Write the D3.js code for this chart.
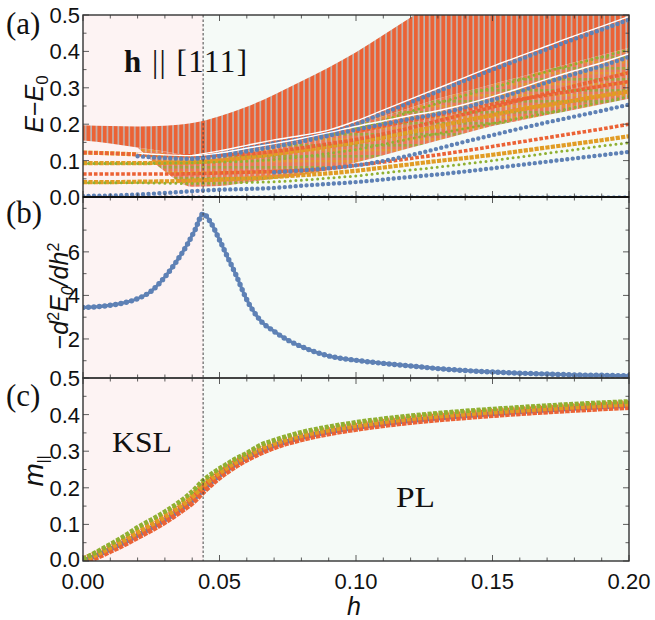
<!DOCTYPE html>
<html><head><meta charset="utf-8">
<script src="https://cdn.jsdelivr.net/npm/d3@7"></script>
<style>body{margin:0;background:#fff} svg{display:block}</style>
</head><body><svg id="c" width="655" height="620"></svg>
<script>
// ---------------- data ----------------
const hCritical = 0.044;
const xTicks = [0, 0.05, 0.1, 0.15, 0.2];
const xTickLabels = ["0.00", "0.05", "0.10", "0.15", "0.20"];
const yTicksA = [0, 0.1, 0.2, 0.3, 0.4, 0.5];
const yTickLabelsA = ["0.0", "0.1", "0.2", "0.3", "0.4", "0.5"];
const yTicksB = [2, 4, 6];
const yTickLabelsB = ["2", "4", "6"];
const yTicksC = [0, 0.1, 0.2, 0.3, 0.4, 0.5];
const yTickLabelsC = ["0.0", "0.1", "0.2", "0.3", "0.4", "0.5"];

// panel (a): spectrum knots
const hK = [0, 0.01, 0.02, 0.03, 0.04, 0.05, 0.06, 0.07, 0.08, 0.09, 0.1, 0.11, 0.12, 0.13, 0.14, 0.15, 0.16, 0.17, 0.18, 0.19, 0.2];
const contTop = [0.197, 0.195, 0.194, 0.196, 0.203, 0.222, 0.248, 0.281, 0.318, 0.356, 0.398, 0.445, 0.493, 0.54, 0.6, 0.6, 0.6, 0.6, 0.6, 0.6, 0.6];
const contDenseLow = [0.155, 0.147, 0.136, 0.125, 0.113, 0.118, 0.128, 0.14, 0.155, 0.175, 0.2, 0.222, 0.245, 0.27, 0.29, 0.31, 0.33, 0.35, 0.37, 0.39, 0.41];
const contSparseLow = [null, null, 0.136, 0.07, 0.028, 0.03, 0.04, 0.05, 0.06, 0.075, 0.095, 0.115, 0.135, 0.155, 0.175, 0.195, 0.21, 0.225, 0.24, 0.255, 0.27];
const levelGround = [0, 0, 0, 0, 0, 0, 0, 0, 0, 0, 0, 0, 0, 0, 0, 0, 0, 0, 0, 0, 0];
const levelB1 = [0.003, 0.004, 0.007, 0.011, 0.016, 0.02, 0.022, 0.025, 0.031, 0.036, 0.041, 0.048, 0.055, 0.062, 0.07, 0.079, 0.088, 0.097, 0.106, 0.115, 0.124];
const levelG1 = [0.039, 0.039, 0.039, 0.038, 0.037, 0.038, 0.04, 0.042, 0.046, 0.052, 0.058, 0.066, 0.074, 0.082, 0.091, 0.1, 0.11, 0.12, 0.13, 0.14, 0.149];
const levelS1 = [0.041, 0.041, 0.042, 0.043, 0.045, 0.048, 0.051, 0.055, 0.06, 0.065, 0.072, 0.081, 0.09, 0.099, 0.107, 0.116, 0.126, 0.136, 0.146, 0.156, 0.167];
const levelT1 = [0.063, 0.063, 0.063, 0.063, 0.064, 0.066, 0.068, 0.07, 0.073, 0.078, 0.087, 0.096, 0.106, 0.116, 0.127, 0.139, 0.151, 0.163, 0.175, 0.187, 0.2];
const levelG2 = [0.092, 0.092, 0.092, 0.093, 0.094, 0.096, 0.098, 0.103, 0.11, 0.12, 0.13, 0.145, 0.16, 0.174, 0.188, 0.202, 0.217, 0.231, 0.246, 0.261, 0.276];
const levelS2 = [0.093, 0.093, 0.093, 0.094, 0.095, 0.1, 0.108, 0.118, 0.128, 0.139, 0.15, 0.164, 0.178, 0.194, 0.21, 0.225, 0.24, 0.253, 0.265, 0.278, 0.29];
const levelS0 = [0.122, 0.12, 0.117, 0.114, null, null, null, null, null, null, null, null, null, null, null, null, null, null, null, null, null];
const levelB2 = [null, null, null, null, null, null, null, 0.068, 0.073, 0.079, 0.087, 0.099, 0.115, 0.133, 0.152, 0.17, 0.188, 0.205, 0.221, 0.237, 0.254];
const levelT2 = [0.122, 0.12, 0.117, 0.114, 0.113, 0.115, 0.118, 0.125, 0.135, 0.146, 0.158, 0.173, 0.19, 0.209, 0.228, 0.247, 0.266, 0.285, 0.305, 0.323, 0.342];
const levelB3 = [null, null, 0.112, 0.107, 0.105, 0.112, 0.125, 0.138, 0.152, 0.168, 0.185, 0.2, 0.215, 0.228, 0.246, 0.267, 0.29, 0.315, 0.338, 0.36, 0.385];
const levelT3 = [null, null, null, null, null, null, null, null, null, null, 0.18, 0.195, 0.21, 0.225, 0.24, 0.255, 0.268, 0.28, 0.292, 0.305, 0.317];
const levelG3 = [null, null, null, null, null, null, null, null, null, null, 0.19, 0.21, 0.235, 0.258, 0.28, 0.3, 0.322, 0.345, 0.365, 0.385, 0.405];
const levelB4 = [null, null, null, null, 0.105, 0.118, 0.133, 0.148, 0.16, 0.175, 0.2, 0.23, 0.26, 0.29, 0.32, 0.35, 0.378, 0.406, 0.434, 0.46, 0.487];

// panel (b)
const hB = [0, 0.005, 0.01, 0.015, 0.02, 0.025, 0.03, 0.035, 0.038, 0.041, 0.044, 0.047, 0.05, 0.053, 0.056, 0.06, 0.065, 0.07, 0.075, 0.08, 0.09, 0.1, 0.11, 0.12, 0.13, 0.14, 0.15, 0.16, 0.17, 0.18, 0.19, 0.2];
const curvature = [3.45, 3.48, 3.55, 3.66, 3.85, 4.2, 4.85, 5.7, 6.3, 7.0, 7.75, 7.3, 6.55, 5.75, 4.95, 3.8, 2.85, 2.35, 1.95, 1.65, 1.22, 1.02, 0.88, 0.76, 0.64, 0.55, 0.48, 0.43, 0.39, 0.35, 0.33, 0.31];

// panel (c)
const hC = [0, 0.005, 0.01, 0.015, 0.02, 0.025, 0.03, 0.035, 0.04, 0.044, 0.048, 0.052, 0.056, 0.06, 0.065, 0.07, 0.08, 0.09, 0.1, 0.12, 0.14, 0.16, 0.18, 0.2];
const mTriangle = [0.0, 0.015, 0.032, 0.05, 0.07, 0.09, 0.112, 0.137, 0.165, 0.195, 0.222, 0.245, 0.265, 0.282, 0.3, 0.315, 0.337, 0.353, 0.365, 0.384, 0.397, 0.408, 0.417, 0.425];
const mSquare = [0.003, 0.02, 0.039, 0.059, 0.081, 0.102, 0.124, 0.149, 0.178, 0.208, 0.233, 0.254, 0.273, 0.289, 0.309, 0.323, 0.345, 0.36, 0.372, 0.391, 0.404, 0.414, 0.423, 0.431];
const mDiamond = [0.005, 0.025, 0.046, 0.068, 0.092, 0.113, 0.135, 0.16, 0.19, 0.22, 0.243, 0.262, 0.28, 0.295, 0.317, 0.33, 0.352, 0.367, 0.379, 0.397, 0.41, 0.42, 0.429, 0.436];

// ---------------- drawing ----------------
const svg = d3.select("#c");
const X0 = 83, X1 = 629;
const panels = { a: [15, 197], b: [197, 378], c: [378, 561] };
const x = d3.scaleLinear().domain([0, 0.2]).range([X0, X1]);
const yA = d3.scaleLinear().domain([0, 0.5]).range([panels.a[1], panels.a[0]]);
const yB = d3.scaleLinear().domain([0.207, 8.52]).range([panels.b[1], panels.b[0]]);
const yC = d3.scaleLinear().domain([0, 0.5]).range([panels.c[1], panels.c[0]]);

const C_BLUE = "#5E81B5", C_GOLD = "#E19C24", C_GREEN = "#8FB032", C_RED = "#EB6235";
const step = x(0.002) - x(0);

const defs = svg.append("defs");
Object.entries(panels).forEach(([k, [t, b]]) => {
  defs.append("clipPath").attr("id", "clip-" + k)
    .append("rect").attr("x", X0).attr("y", t).attr("width", X1 - X0).attr("height", b - t);
});
function stripes(id, op, gop, specks) {
  const p = defs.append("pattern").attr("id", id).attr("patternUnits", "userSpaceOnUse")
    .attr("x", x(0) - 2).attr("y", 0).attr("width", step).attr("height", 11);
  p.append("rect").attr("x", 0).attr("y", 0).attr("width", 4.2).attr("height", 11).attr("fill", C_RED).attr("opacity", op);
  p.append("rect").attr("x", 4.2).attr("y", 0).attr("width", 1.1).attr("height", 11).attr("fill", "#a9a9a9").attr("opacity", gop);
  if (specks) {
    p.append("rect").attr("x", 0.4).attr("y", 1).attr("width", 3.2).attr("height", 2.6).attr("fill", C_GREEN).attr("opacity", 0.8);
    p.append("rect").attr("x", 0.3).attr("y", 6).attr("width", 3.4).attr("height", 2.4).attr("fill", C_GOLD).attr("opacity", 0.75);
  }
}
stripes("dense", 1, 1, false);
stripes("sparse", 0.85, 0.7, true);

// backgrounds
Object.values(panels).forEach(([t, b]) => {
  svg.append("rect").attr("x", X0).attr("y", t).attr("width", x(hCritical) - X0).attr("height", b - t).attr("fill", "#FDF3F3");
  svg.append("rect").attr("x", x(hCritical)).attr("y", t).attr("width", X1 - x(hCritical)).attr("height", b - t).attr("fill", "#F5FAF7");
});

// ---- panel (a)
const gA = svg.append("g").attr("clip-path", "url(#clip-a)");
const idx = hK.map((h, i) => i);
gA.append("path").datum(idx)
  .attr("d", d3.area().defined(i => contSparseLow[i] !== null).curve(d3.curveMonotoneX)
    .x(i => x(hK[i])).y0(i => yA(contSparseLow[i])).y1(i => yA(contDenseLow[i])))
  .attr("fill", "url(#sparse)");
gA.append("path").datum(idx)
  .attr("d", d3.area().curve(d3.curveMonotoneX)
    .x(i => x(hK[i])).y0(i => yA(contDenseLow[i])).y1(i => yA(contTop[i])))
  .attr("fill", "url(#dense)");

const styles = {
  circle: { color: C_BLUE, width: 4.4, dash: `0 ${step}`, cap: "round" },
  square: { color: C_GOLD, width: 4.2, dash: `4.2 ${step - 4.2}`, cap: "butt" },
  plus: { color: C_GREEN, width: 3.0, dash: `0 ${step}`, cap: "round" },
  triangle: { color: C_RED, width: 3.6, dash: `3.6 ${step - 3.6}`, cap: "butt" }
};
function levelLine(arr) {
  return d3.line().defined(i => arr[i] !== null).curve(d3.curveMonotoneX)
    .x(i => x(hK[i])).y(i => yA(arr[i]))(idx);
}
const levels = [
  [levelS2, "square"], [levelS1, "square"], [levelS0, "square"], [levelT1, "triangle"], [levelT2, "triangle"], [levelT3, "triangle"],
  [levelG1, "plus"], [levelG2, "plus"], [levelG3, "plus"],
  [levelB4, "circle", true], [levelB3, "circle", true], [levelB2, "circle"], [levelB1, "circle"]
];
levels.forEach(([arr, st, gap]) => {
  const s = styles[st];
  if (gap) {
    gA.append("path").attr("d", levelLine(arr)).attr("fill", "none")
      .attr("stroke", "#fff").attr("stroke-width", 1.4).attr("transform", "translate(0,-3.2)");
  }
  gA.append("path").attr("d", levelLine(arr)).attr("fill", "none")
    .attr("stroke", s.color).attr("stroke-width", s.width)
    .attr("stroke-dasharray", s.dash).attr("stroke-linecap", s.cap);
});
gA.append("path").attr("d", levelLine(levelGround)).attr("fill", "none")
  .attr("stroke", C_BLUE).attr("stroke-width", 3).attr("stroke-dasharray", `2.5 ${step - 2.5}`);

// ---- panel (b)
const gB = svg.append("g").attr("clip-path", "url(#clip-b)");
const lineB = d3.line().curve(d3.curveMonotoneX).x((h, i) => x(h)).y((h, i) => yB(curvature[i]));
gB.append("path").attr("d", lineB(hB)).attr("fill", "none").attr("stroke", C_BLUE).attr("stroke-width", 3);
gB.append("path").attr("d", lineB(hB)).attr("fill", "none").attr("stroke", C_BLUE).attr("stroke-width", 5.4)
  .attr("stroke-dasharray", `0 ${step}`).attr("stroke-linecap", "round");

// ---- panel (c)
const gC = svg.append("g").attr("clip-path", "url(#clip-c)");
function lineC(arr) {
  return d3.line().curve(d3.curveMonotoneX).x((h) => x(h)).y((h, i) => yC(arr[i]))(hC);
}
gC.append("path").attr("d", lineC(mTriangle)).attr("fill", "none").attr("stroke", C_BLUE).attr("stroke-width", 5);
gC.append("path").attr("d", lineC(mTriangle)).attr("fill", "none").attr("stroke", C_RED).attr("stroke-width", 9)
  .attr("stroke-dasharray", `${step - 1} 1`);
gC.append("path").attr("d", lineC(mSquare)).attr("fill", "none").attr("stroke", C_GOLD).attr("stroke-width", 6.5)
  .attr("stroke-dasharray", `${step - 1.5} 1.5`);
gC.append("path").attr("d", lineC(mDiamond)).attr("fill", "none").attr("stroke", C_GREEN).attr("stroke-width", 4.6)
  .attr("stroke-dasharray", `${step - 1.5} 1.5`);

// critical line
svg.append("line").attr("x1", x(hCritical)).attr("x2", x(hCritical)).attr("y1", panels.a[0]).attr("y2", panels.c[1])
  .attr("stroke", "#444").attr("stroke-width", 1).attr("stroke-dasharray", "2.5,2");

// frames & ticks
const FR = "#333";
function frame(key, y, majors, minors) {
  const [t, b] = panels[key];
  const g = svg.append("g");
  const xMinor = d3.range(0, 0.2001, 0.01);
  xMinor.forEach(v => {
    const len = xTicks.some(m => Math.abs(m - v) < 1e-9) ? 6 : 3.5;
    g.append("line").attr("x1", x(v)).attr("x2", x(v)).attr("y1", b).attr("y2", b - len).attr("stroke", FR).attr("stroke-width", 0.8);
    g.append("line").attr("x1", x(v)).attr("x2", x(v)).attr("y1", t).attr("y2", t + len).attr("stroke", FR).attr("stroke-width", 0.8);
  });
  minors.forEach(v => {
    const len = majors.some(m => Math.abs(m - v) < 1e-9) ? 6 : 3.5;
    g.append("line").attr("x1", X0).attr("x2", X0 + len).attr("y1", y(v)).attr("y2", y(v)).attr("stroke", FR).attr("stroke-width", 0.8);
    g.append("line").attr("x1", X1).attr("x2", X1 - len).attr("y1", y(v)).attr("y2", y(v)).attr("stroke", FR).attr("stroke-width", 0.8);
  });
  g.append("rect").attr("x", X0).attr("y", t).attr("width", X1 - X0).attr("height", b - t)
    .attr("fill", "none").attr("stroke", FR).attr("stroke-width", 1.4);
}
frame("a", yA, yTicksA, d3.range(0, 0.5001, 0.05));
frame("b", yB, yTicksB, d3.range(1, 8.01, 1));
frame("c", yC, yTicksC, d3.range(0, 0.5001, 0.05));
svg.append("line").attr("x1", X0).attr("x2", X1).attr("y1", panels.a[1]).attr("y2", panels.a[1]).attr("stroke", "#111").attr("stroke-width", 2);

// tick labels
const SANS = "'Liberation Sans', Arial, sans-serif";
const SERIF = "'Liberation Serif', 'DejaVu Serif', serif";
function yLabels(y, ticks, labels, shiftFirst) {
  ticks.forEach((v, i) => {
    svg.append("text").attr("x", X0 - 3).attr("y", y(v) - (i === 0 ? shiftFirst : 0)).attr("dy", "0.36em").attr("text-anchor", "end")
      .attr("font-family", SANS).attr("font-size", 22).attr("fill", "#111").text(labels[i]);
  });
}
yLabels(yA, yTicksA, yTickLabelsA, 0);
yLabels(yB, yTicksB, yTickLabelsB, 0);
yLabels(yC, yTicksC, yTickLabelsC, 1.5);
xTicks.forEach((v, i) => {
  svg.append("text").attr("x", x(v)).attr("y", 589).attr("text-anchor", "middle")
    .attr("font-family", SANS).attr("font-size", 22).attr("fill", "#111").text(xTickLabels[i]);
});

// axis titles
const tA = svg.append("text").attr("transform", "translate(43,104) rotate(-90)").attr("text-anchor", "middle")
  .attr("font-family", SANS).attr("font-size", 25).attr("fill", "#111");
tA.append("tspan").attr("font-style", "italic").text("E");
tA.append("tspan").text("−");
tA.append("tspan").attr("font-style", "italic").text("E");
tA.append("tspan").attr("font-size", 17).attr("dy", 5).text("0");

const tB = svg.append("text").attr("transform", "translate(68,296) rotate(-90)").attr("text-anchor", "middle")
  .attr("font-family", SANS).attr("font-size", 25).attr("fill", "#111");
tB.append("tspan").text("−");
tB.append("tspan").attr("font-style", "italic").text("d");
tB.append("tspan").attr("font-size", 16).attr("dy", -9).text("2");
tB.append("tspan").attr("font-style", "italic").attr("dy", 9).text("E");
tB.append("tspan").attr("font-style", "italic").attr("font-size", 16).attr("dy", 5).text("0");
tB.append("tspan").attr("font-style", "italic").attr("dy", -5).text("/dh");
tB.append("tspan").attr("font-size", 16).attr("dy", -9).text("2");

const tC = svg.append("text").attr("transform", "translate(43,471) rotate(-90)").attr("text-anchor", "middle")
  .attr("font-family", SANS).attr("font-size", 28).attr("fill", "#111");
tC.append("tspan").attr("font-style", "italic").text("m");
tC.append("tspan").attr("font-size", 15).attr("dy", 5).text("||");

svg.append("text").attr("x", 354).attr("y", 615).attr("text-anchor", "middle")
  .attr("font-family", SANS).attr("font-size", 25).attr("font-style", "italic").attr("fill", "#111").text("h");

// panel letters
[["(a)", 34], ["(b)", 223], ["(c)", 406]].forEach(([s, yy]) => {
  svg.append("text").attr("x", 6).attr("y", yy).attr("font-family", SERIF).attr("font-size", 31).attr("fill", "#111").text(s);
});

// annotations
const ann = svg.append("text").attr("x", 124).attr("y", 72).attr("font-family", SERIF).attr("font-size", 31)
  .attr("fill", "#111").attr("textLength", 123).attr("lengthAdjust", "spacing");
ann.append("tspan").attr("font-weight", "bold").text("h");
ann.append("tspan").text(" || [111]");
svg.append("text").attr("x", 112).attr("y", 452).attr("font-family", SERIF)
  .attr("font-size", 29).attr("fill", "#111").attr("textLength", 60).attr("lengthAdjust", "spacingAndGlyphs").text("KSL");
svg.append("text").attr("x", 396).attr("y", 507).attr("font-family", SERIF)
  .attr("font-size", 29).attr("fill", "#111").attr("textLength", 39).attr("lengthAdjust", "spacingAndGlyphs").text("PL");
</script></body></html>
